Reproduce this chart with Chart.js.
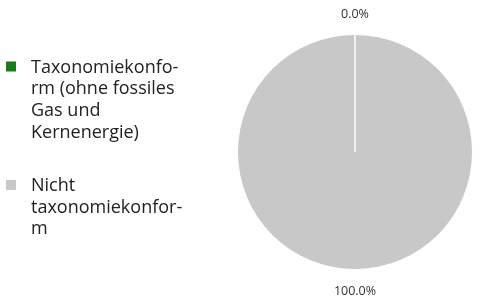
<!DOCTYPE html>
<html>
<head>
<meta charset="utf-8">
<script src="https://cdn.jsdelivr.net/npm/chart.js@4.4.0/dist/chart.umd.min.js"></script>
<style>
  html, body { margin: 0; padding: 0; background: #fff; }
  #wrap { width: 502px; height: 305px; }
</style>
</head>
<body>
<div id="wrap"><canvas id="chart" width="502" height="305"></canvas></div>
<script>
// categories, already broken into lines the way the legend shows them
const categories = [
  ['Taxonomiekonfo-', 'rm (ohne fossiles', 'Gas und', 'Kernenergie)'],
  ['Nicht', 'taxonomiekonfor-', 'm'],
];
const shares = [0.0, 100.0];
const sliceColors = ['#1b7a1b', '#c8c8c8'];

const FONT = '"Open Sans", "Noto Sans", sans-serif';

// legend on the left, one block per category
const sideLegend = {
  id: 'sideLegend',
  afterDraw(chart) {
    const ctx = chart.ctx;
    const lineH = 21.7;
    const gap = 31.7;
    let baseY = 72.5;
    ctx.save();
    ctx.font = '18px ' + FONT;
    ctx.textAlign = 'left';
    ctx.textBaseline = 'alphabetic';
    categories.forEach((lines, i) => {
      ctx.fillStyle = sliceColors[i];
      ctx.fillRect(6, baseY - 11, 10, 10);
      ctx.fillStyle = '#222';
      lines.forEach((t, j) => ctx.fillText(t, 31, baseY + j * lineH));
      baseY += lines.length * lineH + gap;
    });
    ctx.restore();
  },
};

// percentage outside each slice, at its middle angle
const outsideLabels = {
  id: 'outsideLabels',
  afterDraw(chart) {
    const ctx = chart.ctx;
    const meta = chart.getDatasetMeta(0);
    ctx.save();
    ctx.font = '12.5px ' + FONT;
    ctx.fillStyle = '#333';
    ctx.textAlign = 'center';
    ctx.textBaseline = 'middle';
    meta.data.forEach((arc, i) => {
      const p = arc.getProps(['x', 'y', 'startAngle', 'endAngle', 'outerRadius'], true);
      const mid = (p.startAngle + p.endAngle) / 2;
      const r = p.outerRadius + 21;
      ctx.fillText(shares[i].toFixed(1) + '%', p.x + Math.cos(mid) * r, p.y + Math.sin(mid) * r + 1);
    });
    ctx.restore();
  },
};

const ctx = document.getElementById('chart').getContext('2d');
new Chart(ctx, {
  type: 'pie',
  data: {
    labels: categories,
    datasets: [
      {
        data: shares,
        backgroundColor: sliceColors,
        borderColor: '#ffffff',
        borderWidth: 1,
      },
    ],
  },
  options: {
    responsive: false,
    animation: false,
    layout: {
      padding: { left: 237, right: 29, top: 34, bottom: 35 },
    },
    plugins: {
      legend: { display: false },
      tooltip: { enabled: false },
    },
  },
  plugins: [sideLegend, outsideLabels],
});
</script>
</body>
</html>
